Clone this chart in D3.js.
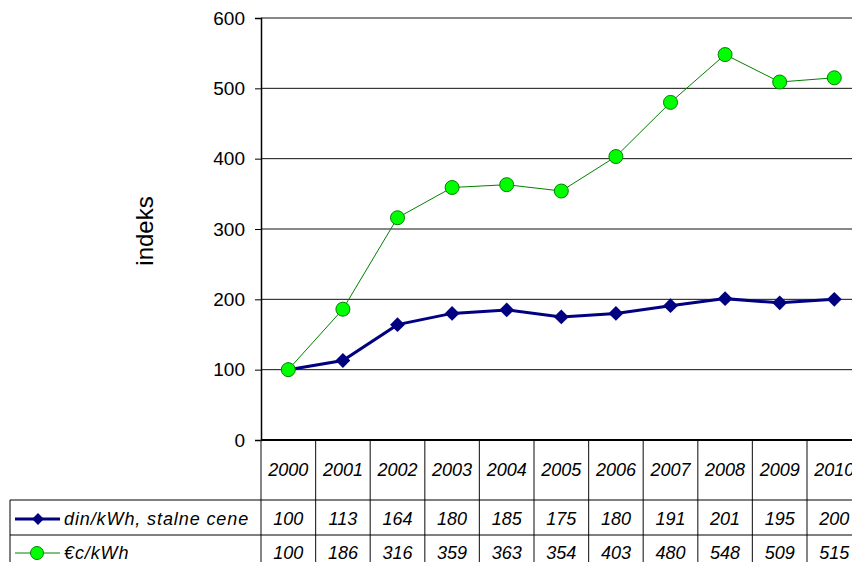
<html>
<head>
<script src="https://d3js.org/d3.v7.min.js"></script>
<style>
  body { margin: 0; background: #fff; }
  text { font-family: "Liberation Sans", Arial, sans-serif; }
</style>
</head>
<body>
<script>
    // chart data
    var years = ["2000", "2001", "2002", "2003", "2004", "2005", "2006", "2007", "2008", "2009", "2010"];
    var dinValues = [100, 113, 164, 180, 185, 175, 180, 191, 201, 195, 200];
    var euroValues = [100, 186, 316, 359, 363, 354, 403, 480, 548, 509, 515];
    var yTicks = [0, 100, 200, 300, 400, 500, 600];
    var seriesNames = ["din/kWh, stalne cene", "\u20acc/kWh"];

    var W = 852, H = 562;
    var plotLeft = 261, plotTop = 18, plotBottom = 440;
    var step = 54.6;

    var svg = d3.select("body").append("svg")
        .attr("width", W).attr("height", H);

    var x = d3.scaleBand().domain(years).range([plotLeft, plotLeft + step * years.length]);
    var y = d3.scaleLinear().domain([0, 600]).range([plotBottom, plotTop]);

    // gridlines
    svg.append("g").selectAll("line").data(yTicks.slice(1)).enter().append("line")
        .attr("x1", plotLeft).attr("x2", W)
        .attr("y1", function (d) { return y(d); }).attr("y2", function (d) { return y(d); })
        .attr("stroke", "#111").attr("stroke-width", 1);

    // y axis
    var yAxis = svg.append("g").attr("transform", "translate(" + plotLeft + ",0)")
        .call(d3.axisLeft(y).tickValues(yTicks).tickSize(6).tickPadding(10));
    yAxis.select(".domain").attr("stroke", "#000").attr("stroke-width", 1.5);
    yAxis.selectAll(".tick line").attr("stroke", "#000");
    yAxis.selectAll("text").attr("font-size", 19).attr("fill", "#000")
        .style("font-family", "'Liberation Sans', Arial, sans-serif");

    svg.append("text")
        .attr("transform", "translate(153,231) rotate(-90)")
        .attr("text-anchor", "middle")
        .attr("font-size", 24)
        .text("indeks");

    // data table
    var tableTop = 440, headBottom = 500, row1Bottom = 535, tableLeft = 10;
    var bounds = years.map(function (d) { return x(d); }).concat([x("2010") + step]);

    svg.append("g").selectAll("line").data(bounds).enter().append("line")
        .attr("x1", function (d) { return d; }).attr("x2", function (d) { return d; })
        .attr("y1", tableTop).attr("y2", H)
        .attr("stroke", "#333").attr("stroke-width", 1.2);
    svg.append("line").attr("x1", tableLeft).attr("x2", tableLeft)
        .attr("y1", headBottom).attr("y2", H).attr("stroke", "#000");
    svg.append("line").attr("x1", tableLeft).attr("x2", W)
        .attr("y1", headBottom).attr("y2", headBottom).attr("stroke", "#000");
    svg.append("line").attr("x1", tableLeft).attr("x2", W)
        .attr("y1", row1Bottom).attr("y2", row1Bottom).attr("stroke", "#000");

    // x axis line
    svg.append("line").attr("x1", plotLeft).attr("x2", W)
        .attr("y1", plotBottom).attr("y2", plotBottom)
        .attr("stroke", "#000").attr("stroke-width", 2);

    var cellText = function (rowY, vals) {
        svg.append("g").selectAll("text").data(vals).enter().append("text")
            .attr("x", function (d, i) { return x(years[i]) + x.bandwidth() / 2; })
            .attr("y", rowY)
            .attr("text-anchor", "middle")
            .attr("font-size", 18)
            .attr("font-style", "italic")
            .text(function (d) { return d; });
    };
    cellText(476, years);
    cellText(525, dinValues);
    cellText(559, euroValues);

    // legend entries in table
    var diamond = d3.symbol().type(d3.symbolSquare);
    svg.append("line").attr("x1", 15).attr("x2", 60).attr("y1", 519).attr("y2", 519)
        .attr("stroke", "#000080").attr("stroke-width", 3);
    svg.append("path").attr("d", diamond.size(70)())
        .attr("transform", "translate(38,519) rotate(45)").attr("fill", "#000080");
    svg.append("text").attr("x", 64).attr("y", 525).attr("font-size", 18)
        .attr("letter-spacing", 0.9)
        .attr("font-style", "italic").text(seriesNames[0]);

    svg.append("line").attr("x1", 15).attr("x2", 60).attr("y1", 553).attr("y2", 553)
        .attr("stroke", "#008000").attr("stroke-width", 1);
    svg.append("circle").attr("cx", 37).attr("cy", 553).attr("r", 6.5)
        .attr("fill", "#00ff00").attr("stroke", "#008000");
    svg.append("text").attr("x", 64).attr("y", 559).attr("font-size", 18)
        .attr("letter-spacing", 0.9)
        .attr("font-style", "italic").text(seriesNames[1]);

    // series
    var cx = function (d, i) { return x(years[i]) + x.bandwidth() / 2; };
    var line = d3.line().x(cx).y(function (d) { return y(d); });

    svg.append("path").datum(dinValues).attr("d", line)
        .attr("fill", "none").attr("stroke", "#000080").attr("stroke-width", 3);
    svg.append("g").selectAll("path").data(dinValues).enter().append("path")
        .attr("d", diamond.size(110)())
        .attr("transform", function (d, i) { return "translate(" + cx(d, i) + "," + y(d) + ") rotate(45)"; })
        .attr("fill", "#000080");

    svg.append("path").datum(euroValues).attr("d", line)
        .attr("fill", "none").attr("stroke", "#008000").attr("stroke-width", 1);
    svg.append("g").selectAll("circle").data(euroValues).enter().append("circle")
        .attr("cx", cx).attr("cy", function (d) { return y(d); })
        .attr("r", 7).attr("fill", "#00ff00").attr("stroke", "#008000").attr("stroke-width", 1);
</script>
</body>
</html>
